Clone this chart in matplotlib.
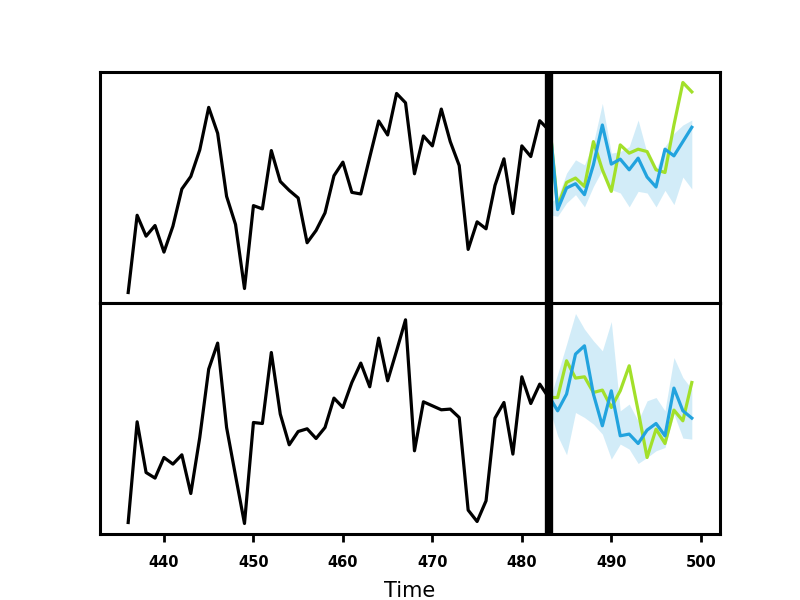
import numpy as np
import matplotlib
matplotlib.use("Agg")
import matplotlib.pyplot as plt

# ---- observed history (time 436..483) ----
hist_t = list(range(436, 484))
top_hist = [0.87, 8.63, 6.53, 7.6, 4.93, 7.53, 11.27, 12.53, 15.2, 19.47, 16.87, 10.53,
            7.7, 1.27, 9.6, 9.27, 15.13, 12.03, 11.13, 10.37, 5.87, 7.1, 8.87, 12.6,
            13.97, 10.93, 10.77, 14.47, 18.1, 16.7, 20.87, 19.93, 12.8, 16.6, 15.6, 19.3,
            16.03, 13.63, 5.2, 7.97, 7.27, 11.63, 14.3, 8.8, 15.6, 14.53, 18.13, 17.2]
bot_hist = [1.13, 11.2, 6.13, 5.57, 7.63, 6.97, 7.9, 4.03, 9.63, 16.47, 19.07, 10.63,
            5.8, 1.03, 11.13, 11.03, 18.13, 11.97, 8.9, 10.23, 10.5, 9.53, 10.63, 13.57,
            12.63, 15.13, 17.07, 14.7, 19.57, 15.3, 18.3, 21.4, 8.3, 13.2, 12.8, 12.4,
            12.47, 11.63, 2.37, 1.23, 3.3, 11.57, 13.13, 7.97, 15.7, 13.03, 14.97, 13.63]

# ---- forecast window (time 483..499) ----
fc_t = list(range(483, 500))
top_actual = [18.87, 9.53, 11.93, 12.37, 11.53, 16.03, 13.2, 11.03, 15.7, 14.87, 15.27,
              15.03, 13.2, 12.93, 17.7, 21.97, 21.03]
top_pred = [18.87, 9.2, 11.37, 11.8, 10.7, 13.7, 17.7, 13.77, 14.27, 13.2, 14.37,
            12.47, 11.47, 15.27, 14.6, 16.03, 17.47]
top_hi = [9.87, 10.37, 12.87, 14.2, 13.7, 15.87, 19.87, 14.87, 15.03, 15.53, 18.2,
          14.87, 13.2, 15.53, 16.87, 17.7, 18.2]
top_lo = [8.7, 8.53, 9.87, 10.7, 9.47, 11.53, 13.2, 11.2, 10.87, 9.47, 11.03,
          10.87, 9.47, 11.13, 9.7, 12.47, 11.27]

bot_actual = [13.63, 13.63, 17.3, 15.57, 15.7, 14.13, 14.37, 12.63, 14.3, 16.8, 12.3,
              7.63, 10.47, 9.03, 12.37, 11.3, 15.13]
bot_pred = [13.8, 12.3, 13.97, 17.97, 18.8, 13.97, 10.8, 14.3, 9.8, 9.97, 9.03,
            10.37, 11.03, 9.8, 14.57, 12.3, 11.57]
bot_hi = [13.13, 15.97, 18.97, 22.03, 20.47, 19.3, 18.3, 21.23, 12.3, 12.97, 11.3,
          13.3, 13.63, 12.3, 17.63, 15.63, 14.47]
bot_lo = [12.8, 9.8, 7.9, 12.13, 11.63, 10.97, 9.97, 7.47, 8.97, 8.47, 7.03,
          7.63, 8.3, 8.63, 11.97, 9.57, 9.47]

split_t = 483
x_ticks = [440, 450, 460, 470, 480, 490, 500]

GREEN = "#a2e02a"
BLUE = "#22a3de"

fig, axes = plt.subplots(2, 1, sharex=True, figsize=(8, 6), dpi=100)
fig.subplots_adjust(hspace=0)

panels = [(top_hist, top_actual, top_pred, top_hi, top_lo),
          (bot_hist, bot_actual, bot_pred, bot_hi, bot_lo)]
for ax, (h, a, p, hi, lo) in zip(axes, panels):
    ax.fill_between(fc_t, lo, hi, color=BLUE, alpha=0.2, linewidth=0)
    ax.plot(hist_t, h, color="black", linewidth=2.3)
    ax.plot(fc_t, a, color=GREEN, linewidth=2.3)
    ax.plot(fc_t, p, color=BLUE, linewidth=2.3)
    ax.axvline(split_t, color="black", linewidth=6)
    ax.set_yticks([])
    for s in ax.spines.values():
        s.set_linewidth(2.2)

axes[0].tick_params(axis="x", bottom=False, labelbottom=False)
axes[1].set_xticks(x_ticks)
axes[1].tick_params(axis="x", labelsize=10.5, length=6, width=2, pad=9)
for lbl in axes[1].get_xticklabels():
    lbl.set_fontweight("bold")
axes[1].set_xlabel("Time", fontsize=15, labelpad=8)

fig.savefig("out.png", dpi=100)
